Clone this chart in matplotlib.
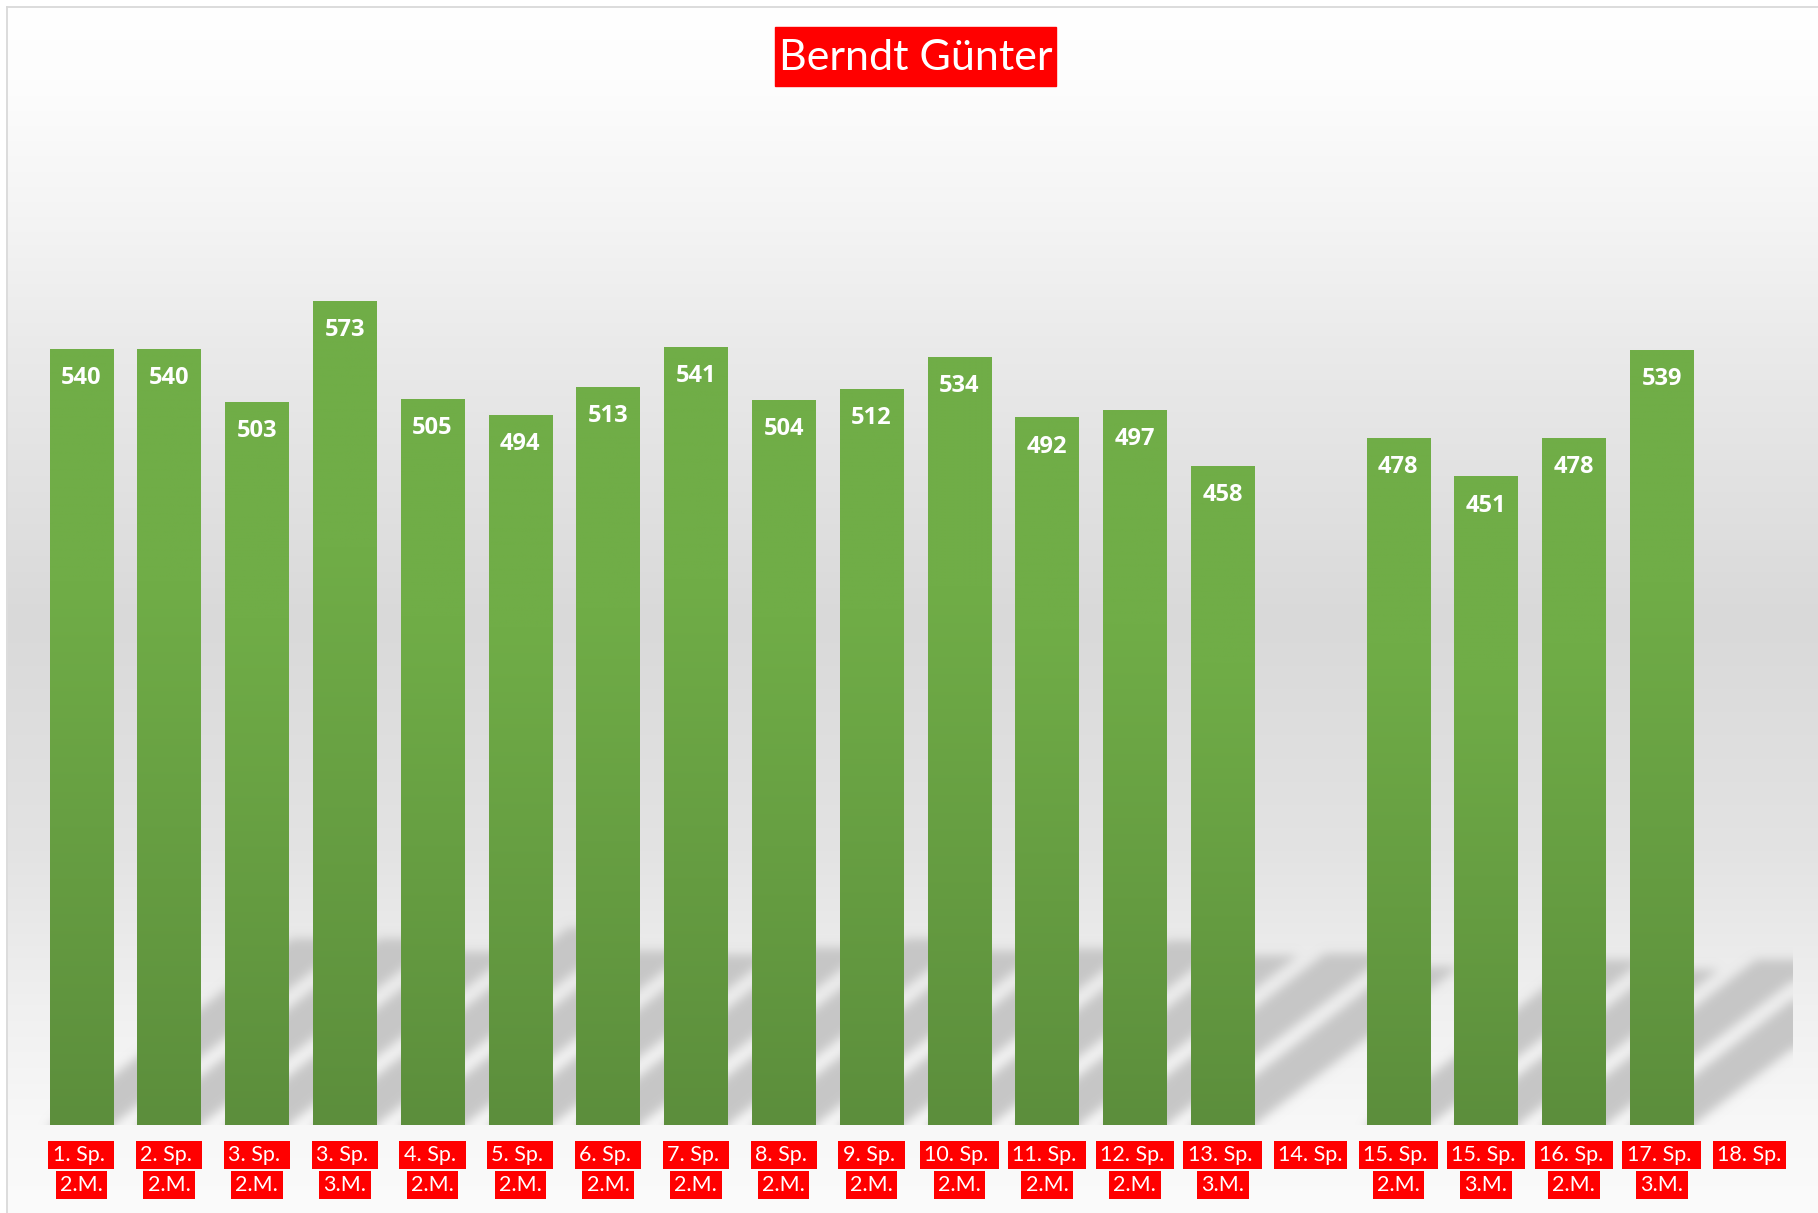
import numpy as np
import matplotlib
matplotlib.use("Agg")
import matplotlib.pyplot as plt
from matplotlib.patches import Rectangle
from matplotlib.lines import Line2D

# ---------------- data ----------------
title = "Berndt Günter"
line1 = ["1. Sp. ", "2. Sp. ", "3. Sp. ", "3. Sp. ", "4. Sp. ", "5. Sp. ", "6. Sp. ",
         "7. Sp. ", "8. Sp. ", "9. Sp. ", "10. Sp. ", "11. Sp. ", "12. Sp. ", "13. Sp. ",
         "14. Sp.", "15. Sp. ", "15. Sp. ", "16. Sp. ", "17. Sp. ", "18. Sp."]
line2 = ["2.M.", "2.M.", "2.M.", "3.M.", "2.M.", "2.M.", "2.M.",
         "2.M.", "2.M.", "2.M.", "2.M.", "2.M.", "2.M.", "3.M.",
         "", "2.M.", "3.M.", "2.M.", "3.M.", ""]
values = [540, 540, 503, 573, 505, 494, 513, 541, 504, 512, 534, 492, 497, 458,
          None, 478, 451, 478, 539, None]

# ---------------- style ----------------
W, H, DPI = 1818, 1213, 100
plt.rcParams["font.family"] = ["Lato", "DejaVu Sans"]
RED = "#FF0000"
TOP_GREEN = np.array([112, 173, 71]) / 255
BOT_GREEN = np.array([92, 142, 60]) / 255
BAR_W = 0.72
YMAX = 700

fig = plt.figure(figsize=(W / DPI, H / DPI), dpi=DPI)
fig.patch.set_facecolor("white")

# chart-area background gradient
bg = fig.add_axes([8 / W, 0, 1 - 8 / W, 1 - 7 / H], zorder=0)
stops_y = np.array([0, 80, 232, 348, 619, 851, 1005, 1130, 1213]) - 7
stops_v = np.array([255, 253, 243, 234, 217, 227, 240, 248, 251]) / 255
yy = np.arange(0, H - 7)
g = np.interp(yy, stops_y, stops_v)
bg_img = np.repeat(g[:, None, None], 3, axis=2)
bg.imshow(bg_img, aspect="auto", extent=[0, 1, 0, 1], origin="upper",
          interpolation="bilinear")
bg.axis("off")

# border
fig.add_artist(Line2D([7.5 / W, 7.5 / W], [0, 1 - 6.5 / H], color="#D9D9D9",
                      lw=1.3, transform=fig.transFigure, zorder=1))
fig.add_artist(Line2D([7.5 / W, 1], [1 - 6.5 / H, 1 - 6.5 / H], color="#D9D9D9",
                      lw=1.3, transform=fig.transFigure, zorder=1))

# main axes
n = len(values)
pitch = 87.8
left_px = 81.3 - pitch / 2
base_px = 1124.6
px_per_unit = 1.437
ax = fig.add_axes([left_px / W, (H - base_px) / H, n * pitch / W,
                   YMAX * px_per_unit / H], zorder=2)
ax.set_facecolor("none")
ax.set_xlim(-0.5, n - 0.5)
ax.set_ylim(0, YMAX)
for s in ax.spines.values():
    s.set_visible(False)
ax.set_xticks([])
ax.set_yticks([])

idx = [i for i, v in enumerate(values) if v is not None]
vals = [values[i] for i in idx]

# perspective shadows (blurred), computed from the bar data
SH_RATIO = 0.24
K = px_per_unit / 0.77 / pitch  # category shift per value unit
YS = 260
nx, ny = int(n * pitch), int(YS * px_per_unit)
xs = -0.5 + (np.arange(nx) + 0.5) / nx * n
ys = (np.arange(ny) + 0.5) / ny * YS
X, Y = np.meshgrid(xs, ys)
mask = np.zeros_like(X)
for i, v in zip(idx, vals):
    shift = Y * K
    inside = (Y <= SH_RATIO * v) & (X >= i - BAR_W / 2 + shift) & (X <= i + BAR_W / 2 + shift)
    mask[inside] = 1.0


def blur(a, s):
    r = int(3 * s)
    k = np.exp(-0.5 * (np.arange(-r, r + 1) / s) ** 2)
    k /= k.sum()
    p = np.pad(a, ((r, r), (0, 0)), mode="edge")
    a = sum(k[j] * p[j:j + a.shape[0]] for j in range(2 * r + 1))
    p = np.pad(a, ((0, 0), (r, r)), mode="edge")
    a = sum(k[j] * p[:, j:j + a.shape[1]] for j in range(2 * r + 1))
    return a


mask = blur(mask, 5.0)
sh = np.zeros((ny, nx, 4))
sh[..., :3] = 0.77
sh[..., 3] = np.clip(mask, 0, 1) * 0.95
ax.imshow(sh, extent=[-0.5, n - 0.5, 0, YS], origin="lower", aspect="auto",
          interpolation="bilinear", zorder=1)

# bars with vertical gradient
bars = ax.bar(idx, vals, width=BAR_W, color="#70AD47", zorder=2, linewidth=0)
tt = np.linspace(0, 1, 256)
f = np.clip((tt - 0.3) / 0.7, 0, 1)
grad = TOP_GREEN[None, :] * (1 - f[:, None]) + BOT_GREEN[None, :] * f[:, None]
grad = grad[:, None, :]
for b in bars:
    x0, w, h = b.get_x(), b.get_width(), b.get_height()
    ax.imshow(grad, extent=[x0, x0 + w, 0, h], origin="upper", aspect="auto",
              interpolation="bilinear", zorder=2.5)

# data labels
for i, v in zip(idx, vals):
    ax.annotate(str(v), (i, v), xytext=(0, -29), textcoords="offset pixels",
                ha="center", va="center", color="white", fontsize=17,
                fontweight="bold", family=["Open Sans", "DejaVu Sans"], zorder=5)

# category labels (each line with its own red box)
for i, (a, b) in enumerate(zip(line1, line2)):
    ax.annotate(a, (i, 0), xytext=(0, -30.5), textcoords="offset pixels",
                ha="center", va="center", color="white", fontsize=15.5,
                bbox=dict(boxstyle="square,pad=0.2", fc=RED, ec="none"),
                annotation_clip=False, zorder=5)
    if b:
        ax.annotate(b, (i, 0), xytext=(0, -60.5), textcoords="offset pixels",
                    ha="center", va="center", color="white", fontsize=15.5,
                    bbox=dict(boxstyle="square,pad=0.2", fc=RED, ec="none"),
                    annotation_clip=False, zorder=5)

# title
fig.add_artist(Rectangle((775 / W, 1 - 86 / H), 281 / W, 59 / H, color=RED,
                         transform=fig.transFigure, zorder=3))
fig.text(915.5 / W, 1 - 58.5 / H, title, ha="center", va="center", color="white",
         fontsize=31, zorder=4)

fig.savefig("out.png", dpi=DPI)
